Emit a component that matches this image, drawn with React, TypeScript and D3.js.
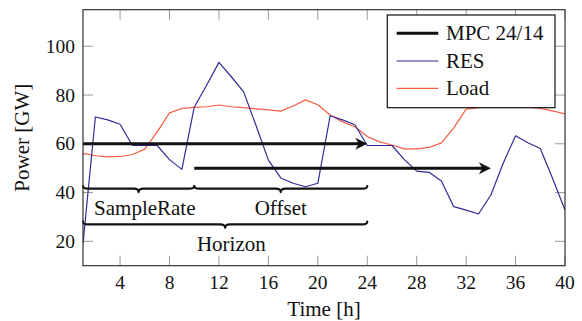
import React from "react";
import * as d3 from "d3";

// Hourly values over the 40 h window
const hours = d3.range(1, 41);
const resValues = [
  19, 71, 69.8, 68, 59.3, 59.3, 59.3, 53.5, 49.5, 75,
  84, 93.4, 87.5, 81.3, 67.5, 53.3, 46, 43.8, 42.4, 43.8,
  71.5, 69.8, 67.8, 59.3, 59.3, 59.3, 53.5, 48.8, 48.3, 44.7,
  34.2, 32.8, 31.2, 39, 52, 63.3, 60.4, 58.1, 45.8, 32.8,
];
const loadValues = [
  56.1, 55.1, 54.6, 54.8, 55.6, 57.8, 64.9, 72.7, 74.5, 74.9,
  75.2, 75.9, 75.2, 74.8, 74.3, 73.9, 73.4, 75.5, 78, 76,
  71.8, 69, 67, 63, 60.8, 59.5, 57.9, 57.9, 58.5, 60.4,
  66.5, 74.2, 74.8, 75, 75, 75, 75, 74.5, 73.5, 72.3,
];

// MPC prediction windows: start hour, end hour, level
const mpcStarts = [1, 10];
const mpcEnds = [24, 34];
const mpcLevels = [60, 50];

// Brace annotations
const braceLabels = ["SampleRate", "Offset", "Horizon"];
const braceFrom = [1, 10, 1];
const braceTo = [10, 24, 24];
const braceLevels = [41.7, 41.7, 27.1];
const braceLabelHours = [6, 17, 13];

const xTicks = [4, 8, 12, 16, 20, 24, 28, 32, 36, 40];
const yTicks = [20, 40, 60, 80, 100];

const legendLabels = ["MPC 24/14", "RES", "Load"];

const W = 582;
const H = 321;
const margin = { left: 83, right: 17, top: 9.7, bottom: 55.3 };
const FONT = "Liberation Serif, Times New Roman, DejaVu Serif, serif";
const RES_COLOR = "#2f2c98";
const LOAD_COLOR = "#f65c44";
const textStyle = { fontFamily: FONT };
const LABEL_SIZE = 21;
const TICK_SIZE = 19.5;

export default function App() {
  const x = d3.scaleLinear().domain([1, 40]).range([margin.left, W - margin.right]);
  const y = d3.scaleLinear().domain([10, 115]).range([H - margin.bottom, margin.top]);
  const [x0, x1] = x.range();
  const [yb, yt] = y.range();

  const line = d3
    .line<number>()
    .x((_, i) => x(hours[i]))
    .y((d) => y(d));

  const tickLen = 10;

  const bracePath = (h1: number, h2: number, level: number) => {
    const a = x(h1);
    const b = x(h2);
    const y0 = y(level) - 2.3;
    const ys = y0 + 2.6;
    const yt2 = y0 + 6;
    const m = (a + b) / 2;
    const r = 5;
    return [
      `M${a},${y0}`,
      `Q${a},${ys} ${a + r},${ys}`,
      `L${m - r},${ys}`,
      `Q${m},${ys} ${m},${yt2}`,
      `Q${m},${ys} ${m + r},${ys}`,
      `L${b - r},${ys}`,
      `Q${b},${ys} ${b},${y0}`,
    ].join(" ");
  };

  const arrowHead = (tx: number, ty: number) => {
    const L = 12;
    const hw = 6;
    const notch = 3.5;
    return `M${tx},${ty} L${tx - L},${ty - hw} L${tx - L + notch},${ty} L${tx - L},${ty + hw} Z`;
  };

  const legend = { x: 387.3, y: 15, w: 167.7, h: 92.7 };
  const rowYs = [33.3, 61, 88.3];

  return (
    <svg
      width={W}
      height={H}
      style={{ position: "absolute", left: 0, top: 0, background: "#fff", fontFamily: FONT }}
    >
      <defs>
        <clipPath id="plot-area">
          <rect x={x0} y={yt} width={x1 - x0} height={yb - yt} />
        </clipPath>
      </defs>

      {/* ticks on all four sides, pointing inward */}
      <g stroke="#9a9a9a" strokeWidth={1}>
        {xTicks.map((t) => (
          <g key={`xt${t}`}>
            <line x1={x(t)} x2={x(t)} y1={yb} y2={yb - tickLen} />
            <line x1={x(t)} x2={x(t)} y1={yt} y2={yt + tickLen} />
          </g>
        ))}
        {yTicks.map((t) => (
          <g key={`yt${t}`}>
            <line x1={x0} x2={x0 + tickLen} y1={y(t)} y2={y(t)} />
            <line x1={x1} x2={x1 - tickLen} y1={y(t)} y2={y(t)} />
          </g>
        ))}
      </g>

      <g clipPath="url(#plot-area)" fill="none" strokeLinejoin="round">
        <path d={line(loadValues) || ""} stroke={LOAD_COLOR} strokeWidth={1.2} />
        <path d={line(resValues) || ""} stroke={RES_COLOR} strokeWidth={1.2} />
      </g>

      {/* MPC windows */}
      {mpcStarts.map((s, i) => (
        <g key={`mpc${i}`}>
          <line
            x1={x(s)}
            x2={x(mpcEnds[i]) - 8}
            y1={y(mpcLevels[i])}
            y2={y(mpcLevels[i])}
            stroke="#111"
            strokeWidth={3}
          />
          <path d={arrowHead(x(mpcEnds[i]), y(mpcLevels[i]))} fill="#111" />
        </g>
      ))}

      {/* braces */}
      {braceLabels.map((lab, i) => (
        <g key={`br${i}`}>
          <path
            d={bracePath(braceFrom[i], braceTo[i], braceLevels[i])}
            fill="none"
            stroke="#111"
            strokeWidth={2.2}
            strokeLinecap="round"
            strokeLinejoin="round"
          />
          <text
            x={x(braceLabelHours[i])}
            y={y(braceLevels[i]) + 27}
            textAnchor="middle"
            fontSize={LABEL_SIZE}
            fill="#111"
            style={textStyle}
          >
            {lab}
          </text>
        </g>
      ))}

      {/* frame */}
      <rect
        x={x0}
        y={yt}
        width={x1 - x0}
        height={yb - yt}
        fill="none"
        stroke="#333"
        strokeWidth={1.2}
      />

      {/* tick labels */}
      {xTicks.map((t) => (
        <text
          key={`xl${t}`}
          x={x(t)}
          y={yb + 23}
          textAnchor="middle"
          fontSize={TICK_SIZE}
          fill="#111"
          style={textStyle}
        >
          {t}
        </text>
      ))}
      {yTicks.map((t) => (
        <text
          key={`yl${t}`}
          x={x0 - 8}
          y={y(t) + 6.5}
          textAnchor="end"
          fontSize={TICK_SIZE}
          fill="#111"
          style={textStyle}
        >
          {t}
        </text>
      ))}

      {/* axis titles */}
      <text
        x={(x0 + x1) / 2}
        y={316}
        textAnchor="middle"
        fontSize={LABEL_SIZE}
        fill="#111"
        style={textStyle}
      >
        Time [h]
      </text>
      <text
        transform={`translate(28.5, ${(yb + yt) / 2}) rotate(-90)`}
        textAnchor="middle"
        fontSize={LABEL_SIZE}
        fill="#111"
        style={textStyle}
      >
        Power [GW]
      </text>

      {/* legend */}
      <g>
        <rect
          x={legend.x}
          y={legend.y}
          width={legend.w}
          height={legend.h}
          fill="#fff"
          stroke="#111"
          strokeWidth={1.2}
        />
        {legendLabels.map((lab, i) => (
          <g key={`lg${i}`}>
            <line
              x1={396.7}
              x2={438.3}
              y1={rowYs[i]}
              y2={rowYs[i]}
              stroke={i === 0 ? "#111" : i === 1 ? RES_COLOR : LOAD_COLOR}
              strokeWidth={i === 0 ? 3 : 1.2}
            />
            <text x={446} y={rowYs[i] + 7} fontSize={LABEL_SIZE} fill="#111" style={textStyle}>
              {lab}
            </text>
          </g>
        ))}
      </g>
    </svg>
  );
}
